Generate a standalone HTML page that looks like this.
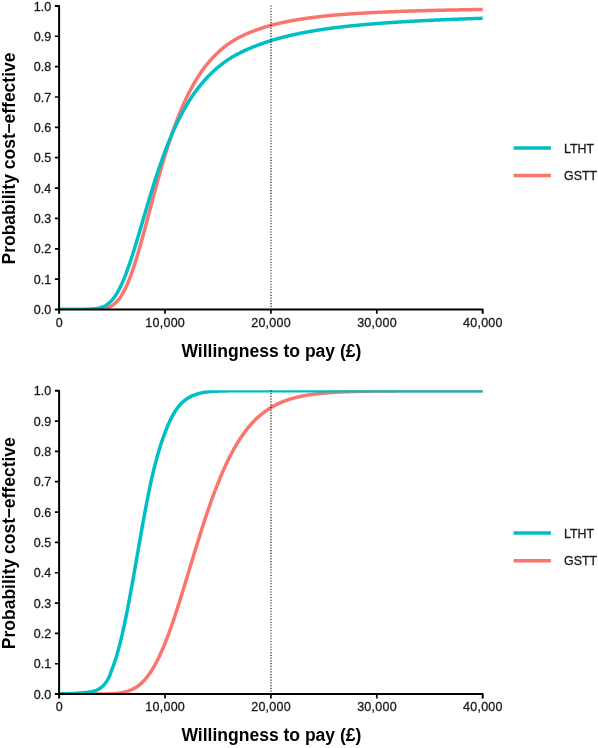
<!DOCTYPE html>
<html lang="en">
<head>
<meta charset="utf-8">
<title>Cost-effectiveness acceptability curves</title>
<style>
html,body{margin:0;padding:0;background:#fff;}
body{width:598px;height:748px;overflow:hidden;}
svg{display:block;}
text{font-family:"Liberation Sans",sans-serif;fill:#1a1a1a;}
.tl text{font-size:12.5px;stroke:#1a1a1a;stroke-width:0.3px;}
.tt{font-size:17.5px;font-weight:bold;fill:#000;}
.tx{font-size:17.55px;}
.xl text{letter-spacing:0.25px;}
.lg{font-size:12.4px;stroke:#1a1a1a;stroke-width:0.3px;}
</style>
</head>
<body>
<svg width="598" height="748" viewBox="0 0 598 748">
<rect x="0" y="0" width="598" height="748" fill="#ffffff"/>
<g class="panel">
<clipPath id="clip1"><rect x="59.1" y="5.50" width="424.10" height="304.20"/></clipPath>
<g clip-path="url(#clip1)" fill="none" stroke-width="3.5" stroke-linejoin="round">
<path d="M59.10,309.50 L59.63,309.50 L60.16,309.50 L60.69,309.50 L61.22,309.50 L61.75,309.50 L62.28,309.50 L62.81,309.50 L63.34,309.50 L63.87,309.50 L64.39,309.50 L64.92,309.50 L65.45,309.50 L65.98,309.50 L66.51,309.50 L67.04,309.50 L67.57,309.50 L68.10,309.50 L68.63,309.50 L69.16,309.50 L69.69,309.50 L70.22,309.50 L70.75,309.50 L71.28,309.50 L71.81,309.50 L72.34,309.50 L72.87,309.50 L73.40,309.50 L73.93,309.50 L74.46,309.50 L74.98,309.50 L75.51,309.50 L76.04,309.50 L76.57,309.50 L77.10,309.50 L77.63,309.50 L78.16,309.50 L78.69,309.50 L79.22,309.50 L79.75,309.50 L80.28,309.50 L80.81,309.50 L81.34,309.50 L81.87,309.50 L82.40,309.50 L82.93,309.49 L83.46,309.49 L83.99,309.49 L84.52,309.49 L85.05,309.49 L85.58,309.49 L86.10,309.49 L86.63,309.48 L87.16,309.48 L87.69,309.48 L88.22,309.48 L88.75,309.47 L89.28,309.47 L89.81,309.46 L90.34,309.46 L90.87,309.45 L91.40,309.45 L91.93,309.44 L92.46,309.43 L92.99,309.42 L93.52,309.41 L94.05,309.39 L94.58,309.38 L95.11,309.36 L95.64,309.34 L96.17,309.32 L96.69,309.30 L97.22,309.27 L97.75,309.24 L98.28,309.21 L98.81,309.17 L99.34,309.13 L99.87,309.09 L100.40,309.04 L100.93,308.98 L101.46,308.92 L101.99,308.85 L102.52,308.78 L103.05,308.69 L103.58,308.60 L104.11,308.50 L104.64,308.39 L105.17,308.28 L105.70,308.15 L106.23,308.01 L106.75,307.85 L107.28,307.69 L107.81,307.51 L108.34,307.32 L108.87,307.11 L109.40,306.88 L109.93,306.64 L110.46,306.38 L110.99,306.10 L111.52,305.80 L112.05,305.48 L112.58,305.14 L113.11,304.78 L113.64,304.39 L114.17,303.98 L114.70,303.55 L115.23,303.09 L115.76,302.60 L116.29,302.08 L116.82,301.54 L117.34,300.97 L117.87,300.37 L118.40,299.74 L118.93,299.07 L119.46,298.38 L119.99,297.65 L120.52,296.90 L121.05,296.10 L121.58,295.28 L122.11,294.42 L122.64,293.53 L123.17,292.60 L123.70,291.64 L124.23,290.65 L124.76,289.61 L125.29,288.55 L125.82,287.45 L126.35,286.31 L126.88,285.14 L127.41,283.94 L127.94,282.70 L128.46,281.43 L128.99,280.13 L129.52,278.79 L130.05,277.42 L130.58,276.01 L131.11,274.58 L131.64,273.11 L132.17,271.62 L132.70,270.09 L133.23,268.54 L133.76,266.96 L134.29,265.35 L134.82,263.71 L135.35,262.05 L135.88,260.36 L136.41,258.65 L136.94,256.91 L137.47,255.15 L138.00,253.37 L138.53,251.57 L139.05,249.76 L139.58,247.92 L140.11,246.06 L140.64,244.19 L141.17,242.31 L141.70,240.40 L142.23,238.49 L142.76,236.56 L143.29,234.62 L143.82,232.67 L144.35,230.72 L144.88,228.75 L145.41,226.77 L145.94,224.79 L146.47,222.80 L147.00,220.81 L147.53,218.82 L148.06,216.82 L148.59,214.81 L149.12,212.81 L149.64,210.81 L150.17,208.81 L150.70,206.80 L151.23,204.80 L151.76,202.81 L152.29,200.81 L152.82,198.82 L153.35,196.84 L153.88,194.86 L154.41,192.89 L154.94,190.92 L155.47,188.96 L156.00,187.01 L156.53,185.07 L157.06,183.13 L157.59,181.21 L158.12,179.29 L158.65,177.39 L159.18,175.50 L159.71,173.62 L160.23,171.75 L160.76,169.89 L161.29,168.04 L161.82,166.21 L162.35,164.39 L162.88,162.59 L163.41,160.79 L163.94,159.02 L164.47,157.25 L165.00,155.50 L165.53,153.77 L166.06,152.05 L166.59,150.35 L167.12,148.66 L167.65,146.98 L168.18,145.33 L168.71,143.68 L169.24,142.06 L169.77,140.45 L170.30,138.85 L170.82,137.27 L171.35,135.71 L171.88,134.17 L172.41,132.64 L172.94,131.12 L173.47,129.63 L174.00,128.14 L174.53,126.68 L175.06,125.23 L175.59,123.80 L176.12,122.38 L176.65,120.98 L177.18,119.60 L177.71,118.23 L178.24,116.88 L178.77,115.54 L179.30,114.22 L179.83,112.92 L180.36,111.63 L180.89,110.35 L181.41,109.10 L181.94,107.85 L182.47,106.63 L183.00,105.41 L183.53,104.22 L184.06,103.04 L184.59,101.87 L185.12,100.72 L185.65,99.58 L186.18,98.46 L186.71,97.35 L187.24,96.25 L187.77,95.17 L188.30,94.11 L188.83,93.06 L189.36,92.02 L189.89,90.99 L190.42,89.98 L190.95,88.98 L191.47,88.00 L192.00,87.03 L192.53,86.07 L193.06,85.12 L193.59,84.19 L194.12,83.27 L194.65,82.36 L195.18,81.46 L195.71,80.57 L196.24,79.70 L196.77,78.84 L197.30,77.99 L197.83,77.15 L198.36,76.33 L198.89,75.51 L199.42,74.71 L199.95,73.91 L200.48,73.13 L201.01,72.36 L201.54,71.60 L202.06,70.84 L202.59,70.10 L203.12,69.37 L203.65,68.65 L204.18,67.94 L204.71,67.24 L205.24,66.55 L205.77,65.86 L206.30,65.19 L206.83,64.53 L207.36,63.87 L207.89,63.22 L208.42,62.59 L208.95,61.96 L209.48,61.34 L210.01,60.73 L210.54,60.12 L211.07,59.53 L211.60,58.94 L212.13,58.36 L212.66,57.79 L213.18,57.23 L213.71,56.67 L214.24,56.12 L214.77,55.58 L215.30,55.05 L215.83,54.52 L216.36,54.00 L216.89,53.49 L217.42,52.98 L217.95,52.49 L218.48,51.99 L219.01,51.51 L219.54,51.03 L220.07,50.56 L220.60,50.09 L221.13,49.63 L221.66,49.18 L222.19,48.73 L222.72,48.29 L223.25,47.85 L223.77,47.42 L224.30,47.00 L224.83,46.58 L225.36,46.17 L225.89,45.76 L226.42,45.36 L226.96,44.96 L227.49,44.58 L228.02,44.19 L228.55,43.82 L229.09,43.45 L229.62,43.08 L230.15,42.72 L230.69,42.37 L231.22,42.02 L231.76,41.67 L232.29,41.33 L232.83,41.00 L233.36,40.67 L233.90,40.35 L234.44,40.03 L234.97,39.71 L235.51,39.40 L236.04,39.10 L236.58,38.80 L237.11,38.50 L237.65,38.20 L238.18,37.92 L238.72,37.63 L239.25,37.35 L239.79,37.07 L240.32,36.80 L240.86,36.53 L241.39,36.26 L241.93,35.99 L242.46,35.73 L243.00,35.48 L243.53,35.22 L244.06,34.97 L244.60,34.72 L245.13,34.47 L245.66,34.23 L246.19,33.99 L246.73,33.76 L247.26,33.53 L247.79,33.30 L248.32,33.07 L248.86,32.85 L249.39,32.63 L249.92,32.42 L250.46,32.20 L250.99,31.99 L251.52,31.78 L252.05,31.58 L252.59,31.38 L253.12,31.18 L253.65,30.98 L254.18,30.78 L254.71,30.59 L255.25,30.39 L255.78,30.20 L256.31,30.01 L256.84,29.83 L257.37,29.64 L257.90,29.46 L258.42,29.27 L258.95,29.09 L259.48,28.91 L260.01,28.73 L260.54,28.55 L261.06,28.37 L261.59,28.19 L262.12,28.02 L262.64,27.85 L263.17,27.67 L263.70,27.51 L264.23,27.34 L264.75,27.17 L265.28,27.01 L265.81,26.85 L266.33,26.69 L266.86,26.53 L267.39,26.38 L267.92,26.22 L268.44,26.07 L268.97,25.92 L269.50,25.77 L270.03,25.62 L270.55,25.48 L271.08,25.33 L271.61,25.19 L272.13,25.05 L272.66,24.91 L273.19,24.77 L273.72,24.63 L274.24,24.49 L274.77,24.36 L275.30,24.23 L275.83,24.10 L276.35,23.97 L276.88,23.84 L277.41,23.71 L277.94,23.58 L278.47,23.46 L278.99,23.33 L279.52,23.21 L280.05,23.09 L280.58,22.97 L281.10,22.85 L281.63,22.74 L282.16,22.62 L282.69,22.50 L283.21,22.39 L283.74,22.28 L284.27,22.17 L284.80,22.06 L285.33,21.95 L285.85,21.84 L286.38,21.73 L286.91,21.62 L287.44,21.52 L287.97,21.42 L288.49,21.31 L289.02,21.21 L289.55,21.11 L290.08,21.01 L290.61,20.91 L291.13,20.81 L291.66,20.71 L292.19,20.62 L292.72,20.52 L293.25,20.43 L293.77,20.34 L294.30,20.24 L294.83,20.15 L295.36,20.06 L295.89,19.97 L296.42,19.88 L296.94,19.79 L297.47,19.71 L298.00,19.62 L298.53,19.54 L299.06,19.45 L299.59,19.37 L300.11,19.28 L300.64,19.20 L301.17,19.12 L301.70,19.04 L302.23,18.96 L302.76,18.88 L303.28,18.80 L303.81,18.72 L304.34,18.64 L304.87,18.57 L305.40,18.49 L305.93,18.41 L306.45,18.34 L306.98,18.26 L307.51,18.19 L308.04,18.12 L308.57,18.04 L309.10,17.97 L309.62,17.90 L310.15,17.83 L310.68,17.76 L311.21,17.69 L311.74,17.62 L312.27,17.55 L312.80,17.48 L313.32,17.41 L313.85,17.35 L314.38,17.28 L314.91,17.21 L315.44,17.15 L315.97,17.08 L316.50,17.02 L317.02,16.96 L317.55,16.89 L318.08,16.83 L318.61,16.77 L319.14,16.71 L319.67,16.64 L320.20,16.58 L320.72,16.52 L321.25,16.46 L321.78,16.40 L322.31,16.35 L322.84,16.29 L323.37,16.23 L323.90,16.17 L324.43,16.12 L324.95,16.06 L325.48,16.01 L326.01,15.95 L326.54,15.90 L327.07,15.84 L327.60,15.79 L328.13,15.73 L328.66,15.68 L329.19,15.63 L329.71,15.58 L330.24,15.53 L330.77,15.48 L331.30,15.43 L331.83,15.38 L332.36,15.33 L332.89,15.28 L333.42,15.23 L333.95,15.18 L334.48,15.13 L335.00,15.09 L335.53,15.04 L336.06,14.99 L336.59,14.95 L337.12,14.90 L337.65,14.86 L338.18,14.81 L338.71,14.77 L339.24,14.73 L339.77,14.69 L340.30,14.64 L340.82,14.60 L341.35,14.56 L341.88,14.52 L342.41,14.48 L342.94,14.44 L343.47,14.40 L344.00,14.36 L344.53,14.32 L345.06,14.28 L345.59,14.24 L346.12,14.20 L346.65,14.16 L347.18,14.12 L347.70,14.08 L348.23,14.05 L348.76,14.01 L349.29,13.97 L349.82,13.93 L350.35,13.90 L350.88,13.86 L351.41,13.83 L351.94,13.79 L352.47,13.75 L353.00,13.72 L353.53,13.68 L354.06,13.65 L354.59,13.62 L355.11,13.58 L355.64,13.55 L356.17,13.51 L356.70,13.48 L357.23,13.45 L357.76,13.41 L358.29,13.38 L358.82,13.35 L359.35,13.32 L359.88,13.29 L360.41,13.25 L360.94,13.22 L361.47,13.19 L362.00,13.16 L362.52,13.13 L363.05,13.10 L363.58,13.07 L364.11,13.04 L364.64,13.01 L365.17,12.98 L365.70,12.95 L366.23,12.92 L366.76,12.89 L367.29,12.86 L367.82,12.83 L368.35,12.81 L368.88,12.78 L369.41,12.75 L369.94,12.72 L370.46,12.69 L370.99,12.67 L371.52,12.64 L372.05,12.61 L372.58,12.59 L373.11,12.56 L373.64,12.53 L374.17,12.51 L374.70,12.48 L375.23,12.45 L375.76,12.43 L376.29,12.40 L376.82,12.38 L377.35,12.35 L377.88,12.33 L378.40,12.30 L378.93,12.28 L379.46,12.25 L379.99,12.23 L380.52,12.20 L381.05,12.18 L381.58,12.16 L382.11,12.13 L382.64,12.11 L383.17,12.09 L383.70,12.06 L384.23,12.04 L384.76,12.02 L385.29,11.99 L385.82,11.97 L386.35,11.95 L386.87,11.93 L387.40,11.90 L387.93,11.88 L388.46,11.86 L388.99,11.84 L389.52,11.82 L390.05,11.79 L390.58,11.77 L391.11,11.75 L391.64,11.73 L392.17,11.71 L392.70,11.69 L393.23,11.67 L393.76,11.65 L394.29,11.63 L394.82,11.61 L395.34,11.59 L395.87,11.57 L396.40,11.55 L396.93,11.53 L397.46,11.51 L397.99,11.49 L398.52,11.47 L399.05,11.45 L399.58,11.43 L400.11,11.41 L400.64,11.39 L401.17,11.37 L401.70,11.36 L402.23,11.34 L402.76,11.32 L403.29,11.30 L403.82,11.28 L404.34,11.26 L404.87,11.25 L405.40,11.23 L405.93,11.21 L406.46,11.19 L406.99,11.17 L407.52,11.16 L408.05,11.14 L408.58,11.12 L409.11,11.11 L409.64,11.09 L410.17,11.07 L410.70,11.06 L411.23,11.04 L411.76,11.02 L412.29,11.01 L412.82,10.99 L413.35,10.97 L413.87,10.96 L414.40,10.94 L414.93,10.92 L415.46,10.91 L415.99,10.89 L416.52,10.88 L417.05,10.86 L417.58,10.85 L418.11,10.83 L418.64,10.81 L419.17,10.80 L419.70,10.78 L420.23,10.77 L420.76,10.75 L421.29,10.74 L421.82,10.72 L422.35,10.71 L422.88,10.70 L423.40,10.68 L423.93,10.67 L424.46,10.65 L424.99,10.64 L425.52,10.62 L426.05,10.61 L426.58,10.60 L427.11,10.58 L427.64,10.57 L428.17,10.55 L428.70,10.54 L429.23,10.53 L429.76,10.51 L430.29,10.50 L430.82,10.49 L431.35,10.47 L431.88,10.46 L432.41,10.45 L432.93,10.43 L433.46,10.42 L433.99,10.41 L434.52,10.39 L435.05,10.38 L435.58,10.37 L436.11,10.36 L436.64,10.34 L437.17,10.33 L437.70,10.32 L438.23,10.31 L438.76,10.29 L439.29,10.28 L439.82,10.27 L440.35,10.26 L440.88,10.24 L441.41,10.23 L441.94,10.22 L442.46,10.21 L442.99,10.20 L443.52,10.18 L444.05,10.17 L444.58,10.16 L445.11,10.15 L445.64,10.14 L446.17,10.13 L446.70,10.12 L447.23,10.10 L447.76,10.09 L448.29,10.08 L448.82,10.07 L449.35,10.06 L449.88,10.05 L450.41,10.04 L450.94,10.03 L451.47,10.02 L452.00,10.01 L452.52,9.99 L453.05,9.98 L453.58,9.97 L454.11,9.96 L454.64,9.95 L455.17,9.94 L455.70,9.93 L456.23,9.92 L456.76,9.91 L457.29,9.90 L457.82,9.89 L458.35,9.88 L458.88,9.87 L459.41,9.86 L459.94,9.85 L460.47,9.84 L461.00,9.83 L461.53,9.82 L462.05,9.81 L462.58,9.80 L463.11,9.79 L463.64,9.78 L464.17,9.77 L464.70,9.76 L465.23,9.75 L465.76,9.75 L466.29,9.74 L466.82,9.73 L467.35,9.72 L467.88,9.71 L468.41,9.70 L468.94,9.69 L469.47,9.68 L470.00,9.67 L470.53,9.66 L471.06,9.65 L471.59,9.65 L472.11,9.64 L472.64,9.63 L473.17,9.62 L473.70,9.61 L474.23,9.60 L474.76,9.59 L475.29,9.58 L475.82,9.58 L476.35,9.57 L476.88,9.56 L477.41,9.55 L477.94,9.54 L478.47,9.53 L479.00,9.53 L479.53,9.52 L480.06,9.51 L480.59,9.50 L481.12,9.49 L481.65,9.49 L482.18,9.48 L482.70,9.47" stroke="#F8766D"/>
<path d="M59.10,309.50 L59.63,309.50 L60.16,309.50 L60.69,309.50 L61.22,309.50 L61.75,309.49 L62.28,309.49 L62.81,309.49 L63.34,309.49 L63.87,309.49 L64.39,309.49 L64.92,309.49 L65.45,309.49 L65.98,309.49 L66.51,309.49 L67.04,309.49 L67.57,309.49 L68.10,309.49 L68.63,309.49 L69.16,309.49 L69.69,309.49 L70.22,309.49 L70.75,309.49 L71.28,309.49 L71.81,309.49 L72.34,309.49 L72.87,309.48 L73.40,309.48 L73.93,309.48 L74.46,309.48 L74.98,309.48 L75.51,309.48 L76.04,309.47 L76.57,309.47 L77.10,309.47 L77.63,309.47 L78.16,309.46 L78.69,309.46 L79.22,309.46 L79.75,309.45 L80.28,309.45 L80.81,309.45 L81.34,309.44 L81.87,309.43 L82.40,309.43 L82.93,309.42 L83.46,309.41 L83.99,309.40 L84.52,309.39 L85.05,309.38 L85.58,309.37 L86.10,309.36 L86.63,309.34 L87.16,309.33 L87.69,309.31 L88.22,309.29 L88.75,309.27 L89.28,309.25 L89.81,309.22 L90.34,309.19 L90.87,309.16 L91.40,309.13 L91.93,309.09 L92.46,309.05 L92.99,309.00 L93.52,308.95 L94.05,308.90 L94.58,308.84 L95.11,308.77 L95.64,308.70 L96.17,308.62 L96.69,308.54 L97.22,308.45 L97.75,308.35 L98.28,308.24 L98.81,308.12 L99.34,307.99 L99.87,307.85 L100.40,307.70 L100.93,307.54 L101.46,307.37 L101.99,307.18 L102.52,306.98 L103.05,306.76 L103.58,306.53 L104.11,306.28 L104.64,306.02 L105.17,305.74 L105.70,305.44 L106.23,305.11 L106.75,304.77 L107.28,304.41 L107.81,304.03 L108.34,303.62 L108.87,303.19 L109.40,302.73 L109.93,302.25 L110.46,301.75 L110.99,301.22 L111.52,300.66 L112.05,300.07 L112.58,299.46 L113.11,298.82 L113.64,298.14 L114.17,297.44 L114.70,296.71 L115.23,295.95 L115.76,295.16 L116.29,294.33 L116.82,293.48 L117.34,292.59 L117.87,291.67 L118.40,290.72 L118.93,289.74 L119.46,288.73 L119.99,287.68 L120.52,286.61 L121.05,285.50 L121.58,284.36 L122.11,283.20 L122.64,282.00 L123.17,280.77 L123.70,279.51 L124.23,278.23 L124.76,276.91 L125.29,275.57 L125.82,274.20 L126.35,272.80 L126.88,271.38 L127.41,269.94 L127.94,268.46 L128.46,266.97 L128.99,265.45 L129.52,263.91 L130.05,262.35 L130.58,260.77 L131.11,259.17 L131.64,257.55 L132.17,255.92 L132.70,254.26 L133.23,252.59 L133.76,250.91 L134.29,249.21 L134.82,247.50 L135.35,245.78 L135.88,244.04 L136.41,242.30 L136.94,240.54 L137.47,238.78 L138.00,237.01 L138.53,235.23 L139.05,233.45 L139.58,231.66 L140.11,229.86 L140.64,228.07 L141.17,226.27 L141.70,224.46 L142.23,222.66 L142.76,220.86 L143.29,219.05 L143.82,217.25 L144.35,215.45 L144.88,213.65 L145.41,211.86 L145.94,210.07 L146.47,208.28 L147.00,206.49 L147.53,204.72 L148.06,202.94 L148.59,201.18 L149.12,199.42 L149.64,197.67 L150.17,195.93 L150.70,194.19 L151.23,192.46 L151.76,190.75 L152.29,189.04 L152.82,187.34 L153.35,185.65 L153.88,183.97 L154.41,182.31 L154.94,180.65 L155.47,179.01 L156.00,177.37 L156.53,175.75 L157.06,174.14 L157.59,172.54 L158.12,170.96 L158.65,169.39 L159.18,167.83 L159.71,166.28 L160.23,164.75 L160.76,163.23 L161.29,161.72 L161.82,160.22 L162.35,158.74 L162.88,157.28 L163.41,155.82 L163.94,154.38 L164.47,152.96 L165.00,151.55 L165.53,150.15 L166.06,148.76 L166.59,147.39 L167.12,146.03 L167.65,144.69 L168.18,143.36 L168.71,142.04 L169.24,140.74 L169.77,139.45 L170.30,138.18 L170.82,136.91 L171.35,135.67 L171.88,134.43 L172.41,133.21 L172.94,132.00 L173.47,130.81 L174.00,129.63 L174.53,128.46 L175.06,127.30 L175.59,126.16 L176.12,125.03 L176.65,123.91 L177.18,122.81 L177.71,121.72 L178.24,120.64 L178.77,119.57 L179.30,118.51 L179.83,117.47 L180.36,116.44 L180.89,115.42 L181.41,114.42 L181.94,113.42 L182.47,112.44 L183.00,111.47 L183.53,110.51 L184.06,109.56 L184.59,108.62 L185.12,107.69 L185.65,106.78 L186.18,105.87 L186.71,104.98 L187.24,104.09 L187.77,103.22 L188.30,102.36 L188.83,101.50 L189.36,100.66 L189.89,99.83 L190.42,99.01 L190.95,98.19 L191.47,97.39 L192.00,96.60 L192.53,95.81 L193.06,95.04 L193.59,94.27 L194.12,93.52 L194.65,92.77 L195.18,92.03 L195.71,91.30 L196.24,90.58 L196.77,89.87 L197.30,89.16 L197.83,88.47 L198.36,87.78 L198.89,87.10 L199.42,86.43 L199.95,85.77 L200.48,85.11 L201.01,84.46 L201.54,83.83 L202.06,83.19 L202.59,82.57 L203.12,81.95 L203.65,81.34 L204.18,80.74 L204.71,80.14 L205.24,79.55 L205.77,78.97 L206.30,78.40 L206.83,77.83 L207.36,77.27 L207.89,76.71 L208.42,76.16 L208.95,75.62 L209.48,75.08 L210.01,74.55 L210.54,74.03 L211.07,73.51 L211.60,73.00 L212.13,72.49 L212.66,71.99 L213.18,71.50 L213.71,71.01 L214.24,70.53 L214.77,70.05 L215.30,69.58 L215.83,69.11 L216.36,68.65 L216.89,68.19 L217.42,67.74 L217.95,67.30 L218.48,66.85 L219.01,66.42 L219.54,65.99 L220.07,65.56 L220.60,65.14 L221.13,64.72 L221.66,64.31 L222.19,63.90 L222.72,63.50 L223.25,63.10 L223.77,62.71 L224.30,62.32 L224.83,61.93 L225.36,61.55 L225.89,61.17 L226.43,60.80 L226.96,60.44 L227.49,60.08 L228.02,59.72 L228.56,59.37 L229.09,59.03 L229.63,58.69 L230.16,58.35 L230.70,58.02 L231.24,57.69 L231.77,57.37 L232.31,57.05 L232.85,56.74 L233.38,56.43 L233.92,56.12 L234.46,55.82 L235.00,55.52 L235.54,55.22 L236.07,54.93 L236.61,54.64 L237.15,54.36 L237.68,54.08 L238.22,53.80 L238.76,53.52 L239.30,53.25 L239.83,52.98 L240.37,52.71 L240.90,52.44 L241.44,52.18 L241.97,51.92 L242.51,51.66 L243.04,51.41 L243.58,51.15 L244.11,50.90 L244.64,50.65 L245.17,50.40 L245.70,50.15 L246.24,49.91 L246.77,49.67 L247.30,49.43 L247.83,49.19 L248.36,48.96 L248.89,48.73 L249.43,48.50 L249.96,48.27 L250.49,48.04 L251.02,47.82 L251.55,47.60 L252.08,47.38 L252.61,47.17 L253.14,46.95 L253.67,46.74 L254.20,46.53 L254.73,46.32 L255.26,46.11 L255.79,45.90 L256.32,45.70 L256.85,45.50 L257.38,45.29 L257.91,45.09 L258.44,44.89 L258.97,44.70 L259.50,44.50 L260.02,44.30 L260.55,44.11 L261.08,43.92 L261.61,43.73 L262.13,43.54 L262.66,43.35 L263.19,43.16 L263.72,42.98 L264.24,42.79 L264.77,42.61 L265.30,42.43 L265.83,42.25 L266.35,42.08 L266.88,41.90 L267.41,41.73 L267.94,41.56 L268.46,41.39 L268.99,41.22 L269.52,41.05 L270.05,40.88 L270.57,40.72 L271.10,40.55 L271.63,40.39 L272.16,40.23 L272.68,40.07 L273.21,39.91 L273.74,39.76 L274.27,39.60 L274.80,39.45 L275.32,39.29 L275.85,39.14 L276.38,38.99 L276.91,38.84 L277.43,38.70 L277.96,38.55 L278.49,38.40 L279.02,38.26 L279.54,38.12 L280.07,37.97 L280.60,37.83 L281.13,37.69 L281.66,37.55 L282.18,37.42 L282.71,37.28 L283.24,37.15 L283.77,37.01 L284.29,36.88 L284.82,36.75 L285.35,36.61 L285.88,36.48 L286.41,36.36 L286.93,36.23 L287.46,36.10 L287.99,35.97 L288.52,35.85 L289.05,35.73 L289.57,35.60 L290.10,35.48 L290.63,35.36 L291.16,35.24 L291.69,35.12 L292.21,35.00 L292.74,34.88 L293.27,34.77 L293.80,34.65 L294.33,34.54 L294.86,34.42 L295.38,34.31 L295.91,34.20 L296.44,34.09 L296.97,33.98 L297.50,33.87 L298.02,33.76 L298.55,33.65 L299.08,33.54 L299.61,33.44 L300.14,33.33 L300.67,33.23 L301.19,33.12 L301.72,33.02 L302.25,32.92 L302.78,32.81 L303.31,32.71 L303.84,32.61 L304.36,32.51 L304.89,32.41 L305.42,32.31 L305.95,32.22 L306.48,32.12 L307.01,32.02 L307.53,31.93 L308.06,31.83 L308.59,31.74 L309.12,31.64 L309.65,31.55 L310.18,31.45 L310.70,31.36 L311.23,31.27 L311.76,31.18 L312.29,31.09 L312.82,31.00 L313.35,30.91 L313.87,30.82 L314.40,30.73 L314.93,30.64 L315.46,30.56 L315.99,30.47 L316.52,30.38 L317.04,30.30 L317.57,30.21 L318.10,30.13 L318.63,30.04 L319.16,29.96 L319.69,29.88 L320.22,29.80 L320.74,29.72 L321.27,29.63 L321.80,29.55 L322.33,29.47 L322.86,29.40 L323.39,29.32 L323.92,29.24 L324.44,29.16 L324.97,29.08 L325.50,29.01 L326.03,28.93 L326.56,28.86 L327.09,28.78 L327.62,28.71 L328.14,28.63 L328.67,28.56 L329.20,28.49 L329.73,28.41 L330.26,28.34 L330.79,28.27 L331.32,28.20 L331.85,28.13 L332.38,28.06 L332.90,27.99 L333.43,27.92 L333.96,27.85 L334.49,27.79 L335.02,27.72 L335.55,27.65 L336.08,27.59 L336.61,27.52 L337.14,27.46 L337.66,27.39 L338.19,27.33 L338.72,27.26 L339.25,27.20 L339.78,27.14 L340.31,27.08 L340.84,27.01 L341.37,26.95 L341.90,26.89 L342.43,26.83 L342.96,26.77 L343.49,26.71 L344.01,26.65 L344.54,26.59 L345.07,26.53 L345.60,26.48 L346.13,26.42 L346.66,26.36 L347.19,26.30 L347.72,26.25 L348.25,26.19 L348.78,26.13 L349.31,26.08 L349.84,26.02 L350.36,25.97 L350.89,25.91 L351.42,25.86 L351.95,25.80 L352.48,25.75 L353.01,25.70 L353.54,25.64 L354.07,25.59 L354.60,25.54 L355.13,25.49 L355.66,25.43 L356.19,25.38 L356.71,25.33 L357.24,25.28 L357.77,25.23 L358.30,25.18 L358.83,25.13 L359.36,25.08 L359.89,25.03 L360.42,24.98 L360.95,24.93 L361.48,24.88 L362.01,24.83 L362.54,24.79 L363.07,24.74 L363.60,24.69 L364.12,24.64 L364.65,24.60 L365.18,24.55 L365.71,24.50 L366.24,24.46 L366.77,24.41 L367.30,24.36 L367.83,24.32 L368.36,24.27 L368.89,24.23 L369.42,24.18 L369.95,24.14 L370.48,24.09 L371.00,24.05 L371.53,24.01 L372.06,23.96 L372.59,23.92 L373.12,23.88 L373.65,23.83 L374.18,23.79 L374.71,23.75 L375.24,23.71 L375.77,23.67 L376.30,23.62 L376.83,23.58 L377.36,23.54 L377.89,23.50 L378.42,23.46 L378.94,23.42 L379.47,23.38 L380.00,23.34 L380.53,23.30 L381.06,23.26 L381.59,23.22 L382.12,23.18 L382.65,23.14 L383.18,23.10 L383.71,23.06 L384.24,23.03 L384.77,22.99 L385.30,22.95 L385.83,22.91 L386.36,22.87 L386.88,22.84 L387.41,22.80 L387.94,22.76 L388.47,22.73 L389.00,22.69 L389.53,22.65 L390.06,22.62 L390.59,22.58 L391.12,22.54 L391.65,22.51 L392.18,22.47 L392.71,22.44 L393.24,22.40 L393.77,22.37 L394.30,22.33 L394.82,22.30 L395.35,22.26 L395.88,22.23 L396.41,22.19 L396.94,22.16 L397.47,22.13 L398.00,22.09 L398.53,22.06 L399.06,22.03 L399.59,21.99 L400.12,21.96 L400.65,21.93 L401.18,21.90 L401.71,21.86 L402.24,21.83 L402.77,21.80 L403.29,21.77 L403.82,21.73 L404.35,21.70 L404.88,21.67 L405.41,21.64 L405.94,21.61 L406.47,21.58 L407.00,21.55 L407.53,21.52 L408.06,21.49 L408.59,21.46 L409.12,21.42 L409.65,21.39 L410.18,21.36 L410.71,21.33 L411.24,21.31 L411.76,21.28 L412.29,21.25 L412.82,21.22 L413.35,21.19 L413.88,21.16 L414.41,21.13 L414.94,21.10 L415.47,21.07 L416.00,21.04 L416.53,21.02 L417.06,20.99 L417.59,20.96 L418.12,20.93 L418.65,20.90 L419.18,20.88 L419.71,20.85 L420.24,20.82 L420.76,20.79 L421.29,20.77 L421.82,20.74 L422.35,20.71 L422.88,20.69 L423.41,20.66 L423.94,20.63 L424.47,20.61 L425.00,20.58 L425.53,20.55 L426.06,20.53 L426.59,20.50 L427.12,20.48 L427.65,20.45 L428.18,20.42 L428.71,20.40 L429.24,20.37 L429.76,20.35 L430.29,20.32 L430.82,20.30 L431.35,20.27 L431.88,20.25 L432.41,20.22 L432.94,20.20 L433.47,20.18 L434.00,20.15 L434.53,20.13 L435.06,20.10 L435.59,20.08 L436.12,20.05 L436.65,20.03 L437.18,20.01 L437.71,19.98 L438.24,19.96 L438.76,19.94 L439.29,19.91 L439.82,19.89 L440.35,19.87 L440.88,19.84 L441.41,19.82 L441.94,19.80 L442.47,19.78 L443.00,19.75 L443.53,19.73 L444.06,19.71 L444.59,19.69 L445.12,19.66 L445.65,19.64 L446.18,19.62 L446.71,19.60 L447.24,19.58 L447.77,19.55 L448.29,19.53 L448.82,19.51 L449.35,19.49 L449.88,19.47 L450.41,19.45 L450.94,19.43 L451.47,19.40 L452.00,19.38 L452.53,19.36 L453.06,19.34 L453.59,19.32 L454.12,19.30 L454.65,19.28 L455.18,19.26 L455.71,19.24 L456.24,19.22 L456.77,19.20 L457.30,19.18 L457.82,19.16 L458.35,19.14 L458.88,19.12 L459.41,19.10 L459.94,19.08 L460.47,19.06 L461.00,19.04 L461.53,19.02 L462.06,19.00 L462.59,18.98 L463.12,18.96 L463.65,18.94 L464.18,18.92 L464.71,18.91 L465.24,18.89 L465.77,18.87 L466.30,18.85 L466.83,18.83 L467.36,18.81 L467.88,18.79 L468.41,18.77 L468.94,18.76 L469.47,18.74 L470.00,18.72 L470.53,18.70 L471.06,18.68 L471.59,18.67 L472.12,18.65 L472.65,18.63 L473.18,18.61 L473.71,18.59 L474.24,18.58 L474.77,18.56 L475.30,18.54 L475.83,18.52 L476.36,18.51 L476.89,18.49 L477.41,18.47 L477.94,18.46 L478.47,18.44 L479.00,18.42 L479.53,18.40 L480.06,18.39 L480.59,18.37 L481.12,18.35 L481.65,18.34 L482.18,18.32 L482.71,18.30" stroke="#00BFC4"/>
</g>
<line x1="271.00" y1="5.50" x2="271.00" y2="309.50" stroke="#2a2a2a" stroke-width="1.3" stroke-dasharray="1.1 1.655"/>
<path d="M54.90,5.90 H59.10 V313.80" fill="none" stroke="#000" stroke-width="2" stroke-linejoin="round"/>
<path d="M54.90,309.50 H482.70 V313.80" fill="none" stroke="#000" stroke-width="2" stroke-linejoin="round"/>
<path d="M54.90,279.14 H59.10 M54.90,248.78 H59.10 M54.90,218.42 H59.10 M54.90,188.06 H59.10 M54.90,157.70 H59.10 M54.90,127.34 H59.10 M54.90,96.98 H59.10 M54.90,66.62 H59.10 M54.90,36.26 H59.10 M165.00,309.50 V313.80 M270.90,309.50 V313.80 M376.80,309.50 V313.80" fill="none" stroke="#000" stroke-width="1.7"/>
<g class="tl" text-anchor="end">
<text x="51.2" y="314.10">0.0</text>
<text x="51.2" y="283.74">0.1</text>
<text x="51.2" y="253.38">0.2</text>
<text x="51.2" y="223.02">0.3</text>
<text x="51.2" y="192.66">0.4</text>
<text x="51.2" y="162.30">0.5</text>
<text x="51.2" y="131.94">0.6</text>
<text x="51.2" y="101.58">0.7</text>
<text x="51.2" y="71.22">0.8</text>
<text x="51.2" y="40.86">0.9</text>
<text x="51.2" y="10.50">1.0</text>
</g>
<g class="tl xl" text-anchor="middle">
<text x="59.30" y="326.80">0</text>
<text x="165.20" y="326.80">10,000</text>
<text x="271.10" y="326.80">20,000</text>
<text x="377.00" y="326.80">30,000</text>
<text x="482.90" y="326.80">40,000</text>
</g>
<text class="tt tx" text-anchor="middle" x="271.40" y="356.70">Willingness to pay (£)</text>
<text class="tt" text-anchor="middle" transform="translate(14.7,158.50) rotate(-90)">Probability cost<tspan dy="-1.1">–</tspan><tspan dy="1.1">effective</tspan></text>
<line x1="513.6" x2="550.9" y1="148.00" y2="148.00" stroke="#00BFC4" stroke-width="3.5"/>
<line x1="513.6" x2="550.9" y1="175.60" y2="175.60" stroke="#F8766D" stroke-width="3.5"/>
<text class="lg" x="564.0" y="152.50">LTHT</text>
<text class="lg" x="564.0" y="180.10">GSTT</text>
</g>
<g class="panel">
<clipPath id="clip2"><rect x="59.1" y="390.30" width="424.10" height="304.00"/></clipPath>
<g clip-path="url(#clip2)" fill="none" stroke-width="3.5" stroke-linejoin="round">
<path d="M59.10,694.10 L59.63,694.10 L60.16,694.10 L60.69,694.10 L61.22,694.10 L61.75,694.10 L62.28,694.10 L62.81,694.10 L63.34,694.10 L63.87,694.10 L64.39,694.10 L64.92,694.10 L65.45,694.10 L65.98,694.10 L66.51,694.10 L67.04,694.10 L67.57,694.10 L68.10,694.10 L68.63,694.10 L69.16,694.10 L69.69,694.10 L70.22,694.10 L70.75,694.10 L71.28,694.10 L71.81,694.10 L72.34,694.10 L72.87,694.10 L73.40,694.10 L73.93,694.10 L74.46,694.10 L74.98,694.10 L75.51,694.10 L76.04,694.10 L76.57,694.10 L77.10,694.10 L77.63,694.10 L78.16,694.10 L78.69,694.10 L79.22,694.10 L79.75,694.10 L80.28,694.10 L80.81,694.10 L81.34,694.10 L81.87,694.10 L82.40,694.10 L82.93,694.10 L83.46,694.10 L83.99,694.10 L84.52,694.10 L85.05,694.10 L85.58,694.10 L86.10,694.10 L86.63,694.10 L87.16,694.10 L87.69,694.10 L88.22,694.10 L88.75,694.10 L89.28,694.10 L89.81,694.10 L90.34,694.09 L90.87,694.09 L91.40,694.09 L91.93,694.09 L92.46,694.09 L92.99,694.09 L93.52,694.09 L94.05,694.09 L94.58,694.09 L95.11,694.08 L95.64,694.08 L96.17,694.08 L96.69,694.08 L97.22,694.07 L97.75,694.07 L98.28,694.07 L98.81,694.06 L99.34,694.06 L99.87,694.06 L100.40,694.05 L100.93,694.05 L101.46,694.04 L101.99,694.03 L102.52,694.03 L103.05,694.02 L103.58,694.01 L104.11,694.00 L104.64,693.99 L105.17,693.98 L105.70,693.97 L106.23,693.96 L106.75,693.95 L107.28,693.93 L107.81,693.92 L108.34,693.90 L108.87,693.88 L109.40,693.86 L109.93,693.84 L110.46,693.82 L110.99,693.79 L111.52,693.77 L112.05,693.74 L112.58,693.71 L113.11,693.67 L113.64,693.64 L114.17,693.60 L114.70,693.56 L115.23,693.52 L115.76,693.47 L116.29,693.42 L116.82,693.37 L117.34,693.31 L117.87,693.25 L118.40,693.19 L118.93,693.12 L119.46,693.05 L119.99,692.97 L120.52,692.89 L121.05,692.81 L121.58,692.71 L122.11,692.62 L122.64,692.52 L123.17,692.41 L123.70,692.30 L124.23,692.18 L124.76,692.05 L125.29,691.92 L125.82,691.78 L126.35,691.63 L126.88,691.48 L127.41,691.31 L127.94,691.14 L128.46,690.96 L128.99,690.77 L129.52,690.58 L130.05,690.37 L130.58,690.16 L131.11,689.93 L131.64,689.69 L132.17,689.45 L132.70,689.19 L133.23,688.92 L133.76,688.64 L134.29,688.35 L134.82,688.05 L135.35,687.73 L135.88,687.40 L136.41,687.06 L136.94,686.71 L137.47,686.34 L138.00,685.96 L138.53,685.56 L139.05,685.15 L139.58,684.73 L140.11,684.29 L140.64,683.83 L141.17,683.36 L141.70,682.87 L142.23,682.37 L142.76,681.85 L143.29,681.32 L143.82,680.76 L144.35,680.19 L144.88,679.61 L145.41,679.00 L145.94,678.38 L146.47,677.74 L147.00,677.08 L147.53,676.40 L148.06,675.71 L148.59,674.99 L149.12,674.26 L149.64,673.51 L150.17,672.74 L150.70,671.95 L151.23,671.14 L151.76,670.31 L152.29,669.46 L152.82,668.60 L153.35,667.71 L153.88,666.80 L154.41,665.88 L154.94,664.93 L155.47,663.97 L156.00,662.98 L156.53,661.97 L157.06,660.95 L157.59,659.90 L158.12,658.84 L158.65,657.76 L159.18,656.65 L159.71,655.53 L160.23,654.39 L160.76,653.23 L161.29,652.05 L161.82,650.85 L162.35,649.63 L162.88,648.40 L163.41,647.14 L163.94,645.87 L164.47,644.58 L165.00,643.27 L165.53,641.95 L166.06,640.61 L166.59,639.25 L167.12,637.87 L167.65,636.48 L168.18,635.07 L168.71,633.64 L169.24,632.20 L169.77,630.75 L170.30,629.28 L170.82,627.79 L171.35,626.29 L171.88,624.78 L172.41,623.25 L172.94,621.71 L173.47,620.16 L174.00,618.59 L174.53,617.01 L175.06,615.42 L175.59,613.82 L176.12,612.21 L176.65,610.59 L177.18,608.95 L177.71,607.31 L178.24,605.66 L178.77,604.00 L179.30,602.33 L179.83,600.65 L180.36,598.97 L180.89,597.27 L181.41,595.57 L181.94,593.87 L182.47,592.16 L183.00,590.44 L183.53,588.72 L184.06,586.99 L184.59,585.26 L185.12,583.52 L185.65,581.78 L186.18,580.04 L186.71,578.30 L187.24,576.55 L187.77,574.80 L188.30,573.05 L188.83,571.30 L189.36,569.55 L189.89,567.80 L190.42,566.05 L190.95,564.29 L191.47,562.54 L192.00,560.80 L192.53,559.05 L193.06,557.30 L193.59,555.56 L194.12,553.82 L194.65,552.09 L195.18,550.36 L195.71,548.63 L196.24,546.90 L196.77,545.18 L197.30,543.47 L197.83,541.76 L198.36,540.06 L198.89,538.36 L199.42,536.67 L199.95,534.98 L200.48,533.30 L201.01,531.63 L201.54,529.97 L202.06,528.31 L202.59,526.67 L203.12,525.03 L203.65,523.40 L204.18,521.77 L204.71,520.16 L205.24,518.55 L205.77,516.96 L206.30,515.37 L206.83,513.80 L207.36,512.23 L207.89,510.67 L208.42,509.13 L208.95,507.59 L209.48,506.07 L210.01,504.56 L210.54,503.05 L211.07,501.56 L211.60,500.08 L212.13,498.61 L212.66,497.16 L213.18,495.71 L213.71,494.28 L214.24,492.86 L214.77,491.45 L215.30,490.05 L215.83,488.66 L216.36,487.29 L216.89,485.93 L217.42,484.58 L217.95,483.25 L218.48,481.92 L219.01,480.61 L219.54,479.32 L220.07,478.03 L220.60,476.76 L221.13,475.50 L221.66,474.25 L222.19,473.02 L222.72,471.80 L223.25,470.59 L223.77,469.39 L224.30,468.21 L224.83,467.04 L225.36,465.89 L225.89,464.74 L226.42,463.61 L226.95,462.50 L227.48,461.39 L228.01,460.30 L228.54,459.22 L229.07,458.15 L229.60,457.10 L230.13,456.06 L230.66,455.03 L231.19,454.01 L231.72,453.01 L232.25,452.02 L232.78,451.04 L233.31,450.07 L233.84,449.12 L234.36,448.18 L234.89,447.25 L235.42,446.33 L235.95,445.43 L236.48,444.53 L237.01,443.65 L237.54,442.78 L238.07,441.92 L238.60,441.08 L239.13,440.24 L239.66,439.42 L240.19,438.61 L240.72,437.81 L241.25,437.02 L241.78,436.24 L242.31,435.47 L242.84,434.71 L243.37,433.97 L243.90,433.23 L244.43,432.51 L244.95,431.79 L245.48,431.09 L246.01,430.40 L246.54,429.72 L247.07,429.04 L247.60,428.38 L248.13,427.73 L248.66,427.09 L249.19,426.45 L249.72,425.83 L250.25,425.21 L250.78,424.61 L251.31,424.02 L251.84,423.43 L252.37,422.85 L252.90,422.28 L253.43,421.73 L253.96,421.18 L254.49,420.63 L255.02,420.10 L255.54,419.58 L256.07,419.06 L256.60,418.55 L257.13,418.05 L257.66,417.56 L258.19,417.08 L258.72,416.60 L259.25,416.14 L259.78,415.68 L260.31,415.22 L260.84,414.78 L261.37,414.34 L261.90,413.91 L262.43,413.49 L262.96,413.07 L263.49,412.66 L264.02,412.26 L264.55,411.86 L265.08,411.47 L265.61,411.09 L266.13,410.72 L266.66,410.35 L267.19,409.98 L267.72,409.63 L268.25,409.28 L268.78,408.93 L269.31,408.59 L269.84,408.26 L270.37,407.93 L270.90,407.61 L271.43,407.30 L271.96,406.99 L272.49,406.68 L273.02,406.38 L273.55,406.09 L274.08,405.80 L274.61,405.52 L275.14,405.24 L275.67,404.96 L276.19,404.70 L276.72,404.43 L277.25,404.17 L277.78,403.92 L278.31,403.67 L278.84,403.42 L279.37,403.18 L279.90,402.94 L280.43,402.71 L280.96,402.48 L281.49,402.26 L282.02,402.04 L282.55,401.82 L283.08,401.61 L283.61,401.40 L284.14,401.20 L284.67,401.00 L285.20,400.80 L285.73,400.61 L286.26,400.42 L286.79,400.23 L287.31,400.05 L287.84,399.87 L288.37,399.69 L288.90,399.52 L289.43,399.35 L289.96,399.18 L290.49,399.02 L291.02,398.86 L291.55,398.70 L292.08,398.55 L292.61,398.40 L293.14,398.25 L293.67,398.10 L294.20,397.96 L294.73,397.82 L295.26,397.68 L295.79,397.55 L296.32,397.42 L296.85,397.29 L297.38,397.16 L297.90,397.03 L298.43,396.91 L298.96,396.79 L299.49,396.67 L300.02,396.56 L300.55,396.44 L301.08,396.33 L301.61,396.22 L302.14,396.11 L302.67,396.01 L303.20,395.91 L303.73,395.80 L304.26,395.70 L304.79,395.61 L305.32,395.51 L305.85,395.42 L306.38,395.33 L306.91,395.24 L307.44,395.15 L307.97,395.06 L308.49,394.98 L309.02,394.89 L309.55,394.81 L310.08,394.73 L310.61,394.65 L311.14,394.58 L311.67,394.50 L312.20,394.43 L312.73,394.35 L313.26,394.28 L313.79,394.21 L314.32,394.14 L314.85,394.08 L315.38,394.01 L315.91,393.95 L316.44,393.88 L316.97,393.82 L317.50,393.76 L318.03,393.70 L318.56,393.64 L319.08,393.58 L319.61,393.53 L320.14,393.47 L320.67,393.42 L321.20,393.37 L321.73,393.31 L322.26,393.26 L322.79,393.21 L323.32,393.16 L323.85,393.12 L324.38,393.07 L324.91,393.02 L325.44,392.98 L325.97,392.93 L326.50,392.89 L327.03,392.85 L327.56,392.81 L328.09,392.76 L328.62,392.72 L329.15,392.68 L329.67,392.65 L330.20,392.61 L330.73,392.57 L331.26,392.53 L331.79,392.50 L332.32,392.46 L332.85,392.43 L333.38,392.40 L333.91,392.36 L334.44,392.33 L334.97,392.30 L335.50,392.27 L336.03,392.24 L336.56,392.21 L337.09,392.18 L337.62,392.15 L338.15,392.12 L338.68,392.09 L339.21,392.07 L339.74,392.04 L340.26,392.02 L340.79,391.99 L341.32,391.96 L341.85,391.94 L342.38,391.92 L342.91,391.89 L343.44,391.87 L343.97,391.85 L344.50,391.83 L345.03,391.80 L345.56,391.78 L346.09,391.76 L346.62,391.74 L347.15,391.72 L347.68,391.70 L348.21,391.68 L348.74,391.66 L349.27,391.64 L349.80,391.63 L350.33,391.61 L350.85,391.59 L351.38,391.57 L351.91,391.56 L352.44,391.54 L352.97,391.52 L353.50,391.51 L354.03,391.49 L354.56,391.48 L355.09,391.46 L355.62,391.45 L356.15,391.43 L356.68,391.42 L357.21,391.41 L357.74,391.39 L358.27,391.38 L358.80,391.37 L359.33,391.35 L359.86,391.34 L360.39,391.33 L360.92,391.32 L361.44,391.31 L361.97,391.29 L362.50,391.28 L363.03,391.27 L363.56,391.26 L364.09,391.25 L364.62,391.24 L365.15,391.23 L365.68,391.22 L366.21,391.21 L366.74,391.20 L367.27,391.19 L367.80,391.18 L368.33,391.17 L368.86,391.16 L369.39,391.15 L369.92,391.15 L370.45,391.14 L370.98,391.13 L371.51,391.12 L372.03,391.11 L372.56,391.11 L373.09,391.10 L373.62,391.09 L374.15,391.08 L374.68,391.08 L375.21,391.07 L375.74,391.06 L376.27,391.06 L376.80,391.05 L377.33,391.04 L377.86,391.04 L378.39,391.03 L378.92,391.02 L379.45,391.02 L379.98,391.01 L380.51,391.01 L381.04,391.00 L381.57,390.99 L382.10,390.99 L382.62,390.98 L383.15,390.98 L383.68,390.97 L384.21,390.97 L384.74,390.96 L385.27,390.96 L385.80,390.95 L386.33,390.95 L386.86,390.94 L387.39,390.94 L387.92,390.94 L388.45,390.93 L388.98,390.93 L389.51,390.92 L390.04,390.92 L390.57,390.91 L391.10,390.91 L391.63,390.91 L392.16,390.90 L392.69,390.90 L393.21,390.90 L393.74,390.89 L394.27,390.89 L394.80,390.89 L395.33,390.88 L395.86,390.88 L396.39,390.88 L396.92,390.87 L397.45,390.87 L397.98,390.87 L398.51,390.86 L399.04,390.86 L399.57,390.86 L400.10,390.85 L400.63,390.85 L401.16,390.85 L401.69,390.85 L402.22,390.84 L402.75,390.84 L403.28,390.84 L403.80,390.84 L404.33,390.83 L404.86,390.83 L405.39,390.83 L405.92,390.83 L406.45,390.82 L406.98,390.82 L407.51,390.82 L408.04,390.82 L408.57,390.82 L409.10,390.81 L409.63,390.81 L410.16,390.81 L410.69,390.81 L411.22,390.81 L411.75,390.80 L412.28,390.80 L412.81,390.80 L413.34,390.80 L413.87,390.80 L414.39,390.79 L414.92,390.79 L415.45,390.79 L415.98,390.79 L416.51,390.79 L417.04,390.79 L417.57,390.79 L418.10,390.78 L418.63,390.78 L419.16,390.78 L419.69,390.78 L420.22,390.78 L420.75,390.78 L421.28,390.78 L421.81,390.77 L422.34,390.77 L422.87,390.77 L423.40,390.77 L423.93,390.77 L424.46,390.77 L424.98,390.77 L425.51,390.77 L426.04,390.76 L426.57,390.76 L427.10,390.76 L427.63,390.76 L428.16,390.76 L428.69,390.76 L429.22,390.76 L429.75,390.76 L430.28,390.76 L430.81,390.75 L431.34,390.75 L431.87,390.75 L432.40,390.75 L432.93,390.75 L433.46,390.75 L433.99,390.75 L434.52,390.75 L435.05,390.75 L435.57,390.75 L436.10,390.75 L436.63,390.75 L437.16,390.74 L437.69,390.74 L438.22,390.74 L438.75,390.74 L439.28,390.74 L439.81,390.74 L440.34,390.74 L440.87,390.74 L441.40,390.74 L441.93,390.74 L442.46,390.74 L442.99,390.74 L443.52,390.74 L444.05,390.74 L444.58,390.74 L445.11,390.73 L445.64,390.73 L446.16,390.73 L446.69,390.73 L447.22,390.73 L447.75,390.73 L448.28,390.73 L448.81,390.73 L449.34,390.73 L449.87,390.73 L450.40,390.73 L450.93,390.73 L451.46,390.73 L451.99,390.73 L452.52,390.73 L453.05,390.73 L453.58,390.73 L454.11,390.73 L454.64,390.73 L455.17,390.73 L455.70,390.72 L456.23,390.72 L456.75,390.72 L457.28,390.72 L457.81,390.72 L458.34,390.72 L458.87,390.72 L459.40,390.72 L459.93,390.72 L460.46,390.72 L460.99,390.72 L461.52,390.72 L462.05,390.72 L462.58,390.72 L463.11,390.72 L463.64,390.72 L464.17,390.72 L464.70,390.72 L465.23,390.72 L465.76,390.72 L466.29,390.72 L466.82,390.72 L467.34,390.72 L467.87,390.72 L468.40,390.72 L468.93,390.72 L469.46,390.72 L469.99,390.72 L470.52,390.72 L471.05,390.72 L471.58,390.72 L472.11,390.71 L472.64,390.71 L473.17,390.71 L473.70,390.71 L474.23,390.71 L474.76,390.71 L475.29,390.71 L475.82,390.71 L476.35,390.71 L476.88,390.71 L477.41,390.71 L477.93,390.71 L478.46,390.71 L478.99,390.71 L479.52,390.71 L480.05,390.71 L480.58,390.71 L481.11,390.71 L481.64,390.71 L482.17,390.71 L482.70,390.71" stroke="#F8766D"/>
<path d="M59.10,694.10 L59.63,694.07 L60.16,694.05 L60.69,694.03 L61.22,694.01 L61.75,693.99 L62.28,693.97 L62.81,693.94 L63.34,693.92 L63.87,693.90 L64.39,693.88 L64.92,693.86 L65.45,693.84 L65.98,693.82 L66.51,693.80 L67.04,693.78 L67.57,693.76 L68.10,693.74 L68.63,693.72 L69.16,693.70 L69.69,693.68 L70.22,693.66 L70.75,693.63 L71.28,693.61 L71.80,693.58 L72.33,693.56 L72.86,693.53 L73.39,693.49 L73.92,693.46 L74.45,693.42 L74.98,693.38 L75.50,693.34 L76.03,693.30 L76.56,693.26 L77.09,693.22 L77.61,693.19 L78.14,693.15 L78.67,693.11 L79.19,693.08 L79.72,693.04 L80.24,693.01 L80.77,692.98 L81.29,692.95 L81.82,692.91 L82.34,692.87 L82.86,692.83 L83.39,692.78 L83.91,692.74 L84.43,692.69 L84.95,692.63 L85.47,692.57 L85.99,692.51 L86.51,692.45 L87.03,692.38 L87.54,692.30 L88.06,692.22 L88.58,692.14 L89.10,692.06 L89.62,691.98 L90.14,691.90 L90.66,691.82 L91.18,691.72 L91.71,691.62 L92.24,691.51 L92.77,691.39 L93.30,691.26 L93.83,691.11 L94.36,690.94 L94.90,690.77 L95.45,690.58 L96.00,690.38 L96.55,690.16 L97.11,689.92 L97.67,689.66 L98.24,689.37 L98.80,689.05 L99.37,688.71 L99.93,688.33 L100.51,687.94 L101.08,687.51 L101.66,687.05 L102.24,686.55 L102.81,686.02 L103.38,685.45 L103.95,684.84 L104.50,684.18 L105.06,683.49 L105.61,682.76 L106.16,681.99 L106.71,681.18 L107.26,680.33 L107.80,679.43 L108.34,678.50 L108.86,677.51 L109.34,676.46 L109.79,675.34 L110.22,674.18 L110.64,672.98 L111.08,671.73 L111.54,670.46 L112.05,669.15 L112.58,667.80 L113.11,666.40 L113.64,664.96 L114.17,663.46 L114.70,661.91 L115.23,660.31 L115.76,658.65 L116.29,656.95 L116.82,655.19 L117.34,653.38 L117.87,651.52 L118.40,649.61 L118.93,647.64 L119.46,645.62 L119.99,643.56 L120.52,641.44 L121.05,639.27 L121.58,637.05 L122.11,634.79 L122.64,632.48 L123.17,630.12 L123.70,627.71 L124.23,625.26 L124.76,622.77 L125.29,620.23 L125.82,617.66 L126.35,615.04 L126.88,612.39 L127.41,609.70 L127.94,606.97 L128.46,604.21 L128.99,601.42 L129.52,598.60 L130.05,595.76 L130.58,592.88 L131.11,589.98 L131.64,587.06 L132.17,584.12 L132.70,581.16 L133.23,578.18 L133.76,575.19 L134.29,572.18 L134.82,569.17 L135.35,566.14 L135.88,563.11 L136.41,560.08 L136.94,557.04 L137.47,554.00 L138.00,550.96 L138.53,547.92 L139.05,544.89 L139.58,541.87 L140.11,538.86 L140.64,535.85 L141.17,532.86 L141.70,529.89 L142.23,526.93 L142.76,523.99 L143.29,521.06 L143.82,518.16 L144.35,515.28 L144.88,512.43 L145.41,509.60 L145.94,506.80 L146.47,504.02 L147.00,501.28 L147.53,498.56 L148.06,495.88 L148.59,493.23 L149.12,490.61 L149.64,488.03 L150.17,485.49 L150.71,482.98 L151.25,480.51 L151.80,478.08 L152.35,475.69 L152.90,473.34 L153.46,471.03 L154.02,468.76 L154.58,466.54 L155.14,464.35 L155.71,462.21 L156.27,460.11 L156.83,458.05 L157.39,456.03 L157.95,454.05 L158.51,452.12 L159.06,450.22 L159.62,448.37 L160.18,446.57 L160.75,444.80 L161.31,443.08 L161.87,441.40 L162.43,439.76 L162.99,438.16 L163.55,436.60 L164.10,435.08 L164.65,433.60 L165.20,432.16 L165.74,430.75 L166.27,429.39 L166.80,428.05 L167.33,426.76 L167.85,425.50 L168.38,424.27 L168.90,423.08 L169.42,421.93 L169.94,420.81 L170.47,419.72 L170.99,418.67 L171.51,417.65 L172.02,416.66 L172.54,415.70 L173.06,414.77 L173.58,413.87 L174.10,413.00 L174.62,412.16 L175.13,411.35 L175.65,410.56 L176.17,409.81 L176.68,409.07 L177.20,408.36 L177.72,407.68 L178.23,407.02 L178.75,406.38 L179.26,405.76 L179.77,405.17 L180.29,404.59 L180.80,404.04 L181.31,403.50 L181.83,402.99 L182.34,402.49 L182.85,402.01 L183.37,401.55 L183.88,401.11 L184.40,400.68 L184.91,400.27 L185.43,399.87 L185.94,399.49 L186.46,399.13 L186.97,398.77 L187.49,398.43 L188.01,398.11 L188.52,397.80 L189.04,397.50 L189.56,397.21 L190.08,396.93 L190.60,396.66 L191.12,396.40 L191.64,396.16 L192.16,395.92 L192.68,395.69 L193.20,395.47 L193.72,395.26 L194.24,395.06 L194.76,394.86 L195.28,394.68 L195.80,394.50 L196.33,394.32 L196.85,394.15 L197.37,393.99 L197.89,393.83 L198.41,393.68 L198.94,393.53 L199.46,393.38 L199.98,393.25 L200.51,393.11 L201.03,392.98 L201.55,392.86 L202.08,392.74 L202.61,392.63 L203.13,392.53 L203.66,392.43 L204.19,392.33 L204.71,392.24 L205.24,392.16 L205.77,392.09 L206.30,392.02 L206.83,391.96 L207.36,391.90 L207.89,391.84 L208.42,391.78 L208.95,391.73 L209.48,391.68 L210.01,391.63 L210.54,391.58 L211.07,391.54 L211.60,391.50 L212.13,391.46 L212.66,391.42 L213.18,391.38 L213.71,391.35 L214.24,391.32 L214.77,391.29 L215.30,391.26 L215.83,391.23 L216.36,391.20 L216.89,391.18 L217.42,391.15 L217.95,391.13 L218.48,391.11 L219.01,391.09 L219.54,391.07 L220.07,391.05 L220.60,391.03 L221.13,391.01 L221.66,391.00 L222.19,390.98 L222.72,390.97 L223.25,390.95 L223.77,390.94 L224.30,390.93 L224.83,390.92 L225.36,390.91 L225.89,390.90 L226.42,390.88 L226.95,390.88 L227.48,390.87 L228.01,390.86 L228.54,390.85 L229.07,390.84 L229.60,390.83 L230.13,390.83 L230.66,390.82 L231.19,390.81 L231.72,390.81 L232.25,390.80 L232.78,390.80 L233.31,390.79 L233.84,390.79 L234.36,390.78 L234.89,390.78 L235.42,390.77 L235.95,390.77 L236.48,390.77 L237.01,390.76 L237.54,390.76 L238.07,390.76 L238.60,390.75 L239.13,390.75 L239.66,390.75 L240.19,390.75 L240.72,390.74 L241.25,390.74 L241.78,390.74 L242.31,390.74 L242.84,390.73 L243.37,390.73 L243.90,390.73 L244.43,390.73 L244.95,390.73 L245.48,390.73 L246.01,390.73 L246.54,390.72 L247.07,390.72 L247.60,390.72 L248.13,390.72 L248.66,390.72 L249.19,390.72 L249.72,390.72 L250.25,390.72 L250.78,390.72 L251.31,390.71 L251.84,390.71 L252.37,390.71 L252.90,390.71 L253.43,390.71 L253.96,390.71 L254.49,390.71 L255.02,390.71 L255.54,390.71 L256.07,390.71 L256.60,390.71 L257.13,390.71 L257.66,390.71 L258.19,390.71 L258.72,390.71 L259.25,390.71 L259.78,390.71 L260.31,390.71 L260.84,390.71 L261.37,390.71 L261.90,390.70 L262.43,390.70 L262.96,390.70 L263.49,390.70 L264.02,390.70 L264.55,390.70 L265.08,390.70 L265.61,390.70 L266.13,390.70 L266.66,390.70 L267.19,390.70 L267.72,390.70 L268.25,390.70 L268.78,390.70 L269.31,390.70 L269.84,390.70 L270.37,390.70 L270.90,390.70 L271.43,390.70 L271.96,390.70 L272.49,390.70 L273.02,390.70 L273.55,390.70 L274.08,390.70 L274.61,390.70 L275.14,390.70 L275.67,390.70 L276.19,390.70 L276.72,390.70 L277.25,390.70 L277.78,390.70 L278.31,390.70 L278.84,390.70 L279.37,390.70 L279.90,390.70 L280.43,390.70 L280.96,390.70 L281.49,390.70 L282.02,390.70 L282.55,390.70 L283.08,390.70 L283.61,390.70 L284.14,390.70 L284.67,390.70 L285.20,390.70 L285.73,390.70 L286.26,390.70 L286.79,390.70 L287.31,390.70 L287.84,390.70 L288.37,390.70 L288.90,390.70 L289.43,390.70 L289.96,390.70 L290.49,390.70 L291.02,390.70 L291.55,390.70 L292.08,390.70 L292.61,390.70 L293.14,390.70 L293.67,390.70 L294.20,390.70 L294.73,390.70 L295.26,390.70 L295.79,390.70 L296.32,390.70 L296.85,390.70 L297.38,390.70 L297.90,390.70 L298.43,390.70 L298.96,390.70 L299.49,390.70 L300.02,390.70 L300.55,390.70 L301.08,390.70 L301.61,390.70 L302.14,390.70 L302.67,390.70 L303.20,390.70 L303.73,390.70 L304.26,390.70 L304.79,390.70 L305.32,390.70 L305.85,390.70 L306.38,390.70 L306.91,390.70 L307.44,390.70 L307.97,390.70 L308.49,390.70 L309.02,390.70 L309.55,390.70 L310.08,390.70 L310.61,390.70 L311.14,390.70 L311.67,390.70 L312.20,390.70 L312.73,390.70 L313.26,390.70 L313.79,390.70 L314.32,390.70 L314.85,390.70 L315.38,390.70 L315.91,390.70 L316.44,390.70 L316.97,390.70 L317.50,390.70 L318.03,390.70 L318.56,390.70 L319.08,390.70 L319.61,390.70 L320.14,390.70 L320.67,390.70 L321.20,390.70 L321.73,390.70 L322.26,390.70 L322.79,390.70 L323.32,390.70 L323.85,390.70 L324.38,390.70 L324.91,390.70 L325.44,390.70 L325.97,390.70 L326.50,390.70 L327.03,390.70 L327.56,390.70 L328.09,390.70 L328.62,390.70 L329.15,390.70 L329.67,390.70 L330.20,390.70 L330.73,390.70 L331.26,390.70 L331.79,390.70 L332.32,390.70 L332.85,390.70 L333.38,390.70 L333.91,390.70 L334.44,390.70 L334.97,390.70 L335.50,390.70 L336.03,390.70 L336.56,390.70 L337.09,390.70 L337.62,390.70 L338.15,390.70 L338.68,390.70 L339.21,390.70 L339.74,390.70 L340.26,390.70 L340.79,390.70 L341.32,390.70 L341.85,390.70 L342.38,390.70 L342.91,390.70 L343.44,390.70 L343.97,390.70 L344.50,390.70 L345.03,390.70 L345.56,390.70 L346.09,390.70 L346.62,390.70 L347.15,390.70 L347.68,390.70 L348.21,390.70 L348.74,390.70 L349.27,390.70 L349.80,390.70 L350.33,390.70 L350.85,390.70 L351.38,390.70 L351.91,390.70 L352.44,390.70 L352.97,390.70 L353.50,390.70 L354.03,390.70 L354.56,390.70 L355.09,390.70 L355.62,390.70 L356.15,390.70 L356.68,390.70 L357.21,390.70 L357.74,390.70 L358.27,390.70 L358.80,390.70 L359.33,390.70 L359.86,390.70 L360.39,390.70 L360.92,390.70 L361.44,390.70 L361.97,390.70 L362.50,390.70 L363.03,390.70 L363.56,390.70 L364.09,390.70 L364.62,390.70 L365.15,390.70 L365.68,390.70 L366.21,390.70 L366.74,390.70 L367.27,390.70 L367.80,390.70 L368.33,390.70 L368.86,390.70 L369.39,390.70 L369.92,390.70 L370.45,390.70 L370.98,390.70 L371.51,390.70 L372.03,390.70 L372.56,390.70 L373.09,390.70 L373.62,390.70 L374.15,390.70 L374.68,390.70 L375.21,390.70 L375.74,390.70 L376.27,390.70 L376.80,390.70 L377.33,390.70 L377.86,390.70 L378.39,390.70 L378.92,390.70 L379.45,390.70 L379.98,390.70 L380.51,390.70 L381.04,390.70 L381.57,390.70 L382.10,390.70 L382.62,390.70 L383.15,390.70 L383.68,390.70 L384.21,390.70 L384.74,390.70 L385.27,390.70 L385.80,390.70 L386.33,390.70 L386.86,390.70 L387.39,390.70 L387.92,390.70 L388.45,390.70 L388.98,390.70 L389.51,390.70 L390.04,390.70 L390.57,390.70 L391.10,390.70 L391.63,390.70 L392.16,390.70 L392.69,390.70 L393.21,390.70 L393.74,390.70 L394.27,390.70 L394.80,390.70 L395.33,390.70 L395.86,390.70 L396.39,390.70 L396.92,390.70 L397.45,390.70 L397.98,390.70 L398.51,390.70 L399.04,390.70 L399.57,390.70 L400.10,390.70 L400.63,390.70 L401.16,390.70 L401.69,390.70 L402.22,390.70 L402.75,390.70 L403.28,390.70 L403.80,390.70 L404.33,390.70 L404.86,390.70 L405.39,390.70 L405.92,390.70 L406.45,390.70 L406.98,390.70 L407.51,390.70 L408.04,390.70 L408.57,390.70 L409.10,390.70 L409.63,390.70 L410.16,390.70 L410.69,390.70 L411.22,390.70 L411.75,390.70 L412.28,390.70 L412.81,390.70 L413.34,390.70 L413.87,390.70 L414.39,390.70 L414.92,390.70 L415.45,390.70 L415.98,390.70 L416.51,390.70 L417.04,390.70 L417.57,390.70 L418.10,390.70 L418.63,390.70 L419.16,390.70 L419.69,390.70 L420.22,390.70 L420.75,390.70 L421.28,390.70 L421.81,390.70 L422.34,390.70 L422.87,390.70 L423.40,390.70 L423.93,390.70 L424.46,390.70 L424.98,390.70 L425.51,390.70 L426.04,390.70 L426.57,390.70 L427.10,390.70 L427.63,390.70 L428.16,390.70 L428.69,390.70 L429.22,390.70 L429.75,390.70 L430.28,390.70 L430.81,390.70 L431.34,390.70 L431.87,390.70 L432.40,390.70 L432.93,390.70 L433.46,390.70 L433.99,390.70 L434.52,390.70 L435.05,390.70 L435.57,390.70 L436.10,390.70 L436.63,390.70 L437.16,390.70 L437.69,390.70 L438.22,390.70 L438.75,390.70 L439.28,390.70 L439.81,390.70 L440.34,390.70 L440.87,390.70 L441.40,390.70 L441.93,390.70 L442.46,390.70 L442.99,390.70 L443.52,390.70 L444.05,390.70 L444.58,390.70 L445.11,390.70 L445.64,390.70 L446.16,390.70 L446.69,390.70 L447.22,390.70 L447.75,390.70 L448.28,390.70 L448.81,390.70 L449.34,390.70 L449.87,390.70 L450.40,390.70 L450.93,390.70 L451.46,390.70 L451.99,390.70 L452.52,390.70 L453.05,390.70 L453.58,390.70 L454.11,390.70 L454.64,390.70 L455.17,390.70 L455.70,390.70 L456.23,390.70 L456.75,390.70 L457.28,390.70 L457.81,390.70 L458.34,390.70 L458.87,390.70 L459.40,390.70 L459.93,390.70 L460.46,390.70 L460.99,390.70 L461.52,390.70 L462.05,390.70 L462.58,390.70 L463.11,390.70 L463.64,390.70 L464.17,390.70 L464.70,390.70 L465.23,390.70 L465.76,390.70 L466.29,390.70 L466.82,390.70 L467.34,390.70 L467.87,390.70 L468.40,390.70 L468.93,390.70 L469.46,390.70 L469.99,390.70 L470.52,390.70 L471.05,390.70 L471.58,390.70 L472.11,390.70 L472.64,390.70 L473.17,390.70 L473.70,390.70 L474.23,390.70 L474.76,390.70 L475.29,390.70 L475.82,390.70 L476.35,390.70 L476.88,390.70 L477.41,390.70 L477.93,390.70 L478.46,390.70 L478.99,390.70 L479.52,390.70 L480.05,390.70 L480.58,390.70 L481.11,390.70 L481.64,390.70 L482.17,390.70 L482.70,390.70" stroke="#00BFC4"/>
</g>
<line x1="271.00" y1="390.30" x2="271.00" y2="694.10" stroke="#2a2a2a" stroke-width="1.3" stroke-dasharray="1.1 1.655"/>
<path d="M54.90,390.70 H59.10 V698.40" fill="none" stroke="#000" stroke-width="2" stroke-linejoin="round"/>
<path d="M54.90,694.10 H482.70 V698.40" fill="none" stroke="#000" stroke-width="2" stroke-linejoin="round"/>
<path d="M54.90,663.76 H59.10 M54.90,633.42 H59.10 M54.90,603.08 H59.10 M54.90,572.74 H59.10 M54.90,542.40 H59.10 M54.90,512.06 H59.10 M54.90,481.72 H59.10 M54.90,451.38 H59.10 M54.90,421.04 H59.10 M165.00,694.10 V698.40 M270.90,694.10 V698.40 M376.80,694.10 V698.40" fill="none" stroke="#000" stroke-width="1.7"/>
<g class="tl" text-anchor="end">
<text x="51.2" y="698.70">0.0</text>
<text x="51.2" y="668.36">0.1</text>
<text x="51.2" y="638.02">0.2</text>
<text x="51.2" y="607.68">0.3</text>
<text x="51.2" y="577.34">0.4</text>
<text x="51.2" y="547.00">0.5</text>
<text x="51.2" y="516.66">0.6</text>
<text x="51.2" y="486.32">0.7</text>
<text x="51.2" y="455.98">0.8</text>
<text x="51.2" y="425.64">0.9</text>
<text x="51.2" y="395.30">1.0</text>
</g>
<g class="tl xl" text-anchor="middle">
<text x="59.30" y="711.40">0</text>
<text x="165.20" y="711.40">10,000</text>
<text x="271.10" y="711.40">20,000</text>
<text x="377.00" y="711.40">30,000</text>
<text x="482.90" y="711.40">40,000</text>
</g>
<text class="tt tx" text-anchor="middle" x="271.40" y="741.30">Willingness to pay (£)</text>
<text class="tt" text-anchor="middle" transform="translate(14.7,543.20) rotate(-90)">Probability cost<tspan dy="-1.1">–</tspan><tspan dy="1.1">effective</tspan></text>
<line x1="513.6" x2="550.9" y1="533.10" y2="533.10" stroke="#00BFC4" stroke-width="3.5"/>
<line x1="513.6" x2="550.9" y1="560.70" y2="560.70" stroke="#F8766D" stroke-width="3.5"/>
<text class="lg" x="564.0" y="537.60">LTHT</text>
<text class="lg" x="564.0" y="565.20">GSTT</text>
</g>
</svg>
</body>
</html>
